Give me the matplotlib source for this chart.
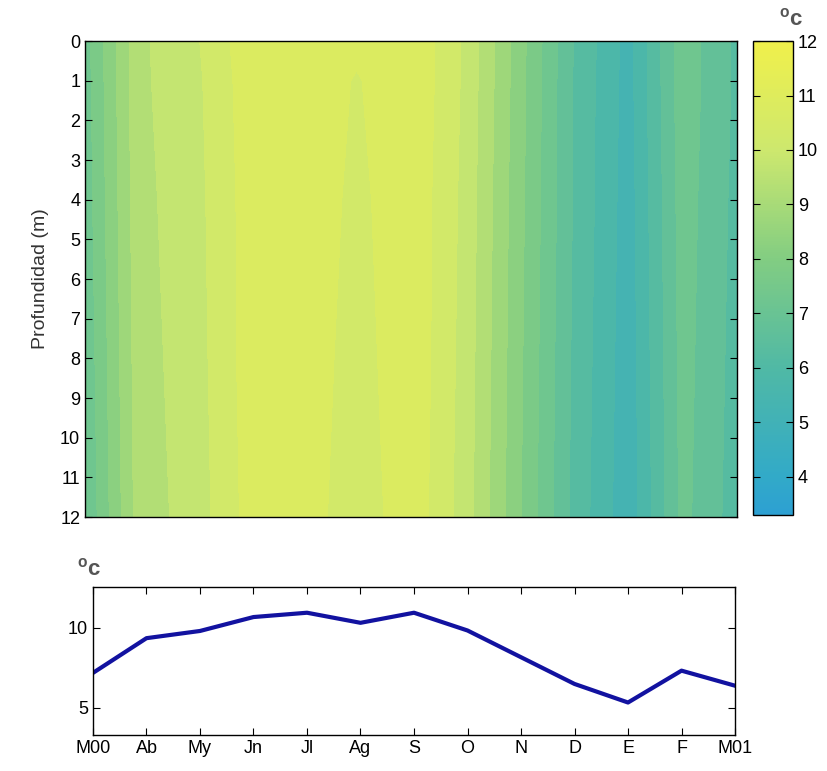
import matplotlib
matplotlib.use("Agg")
import matplotlib.pyplot as plt
import numpy as np
from matplotlib.colors import LinearSegmentedColormap, Normalize
from matplotlib.cm import ScalarMappable

plt.rcParams['font.family'] = ['Liberation Sans', 'DejaVu Sans']

# month labels (x = 0..12)
meses = ["M00", "Ab", "My", "Jn", "Jl", "Ag", "S", "O", "N", "D", "E", "F", "M01"]
mes_x = np.arange(len(meses))

# depths (m) where the profile was read
prof = [0, 1, 4, 8, 12]

# temperature (ºC) per depth row, per month
t_0 = [7.3, 9.4, 9.9, 10.8, 10.95, 10.65, 10.95, 9.9, 8.2, 6.5, 5.3, 7.3, 6.4]
t_1 = [7.25, 9.4, 9.85, 10.75, 10.9, 10.45, 10.95, 9.9, 8.2, 6.45, 5.3, 7.3, 6.4]
t_4 = [7.2, 9.35, 9.8, 10.7, 10.9, 10.35, 10.9, 9.85, 8.15, 6.45, 5.25, 7.25, 6.35]
t_8 = [7.1, 9.3, 9.75, 10.7, 10.85, 10.25, 10.9, 9.8, 8.1, 6.4, 5.2, 7.2, 6.3]
t_12 = [7.0, 9.25, 9.7, 10.65, 10.8, 10.15, 10.85, 9.75, 8.05, 6.35, 5.15, 7.15, 6.25]

# depth-mean temperature (bottom panel)
t_media = [7.18, 9.35, 9.8, 10.67, 10.94, 10.31, 10.94, 9.83, 8.16, 6.49, 5.33, 7.32, 6.38]

T = np.array([t_0, t_1, t_4, t_8, t_12])

# colormap
cmap = LinearSegmentedColormap.from_list("temp", [
    (0.0, (45/255, 160/255, 210/255)),
    ((4 - 3.3) / 8.7, (50/255, 170/255, 200/255)),
    ((6 - 3.3) / 8.7, (80/255, 185/255, 165/255)),
    ((8 - 3.3) / 8.7, (130/255, 205/255, 130/255)),
    ((10 - 3.3) / 8.7, (205/255, 232/255, 110/255)),
    (1.0, (240/255, 240/255, 75/255)),
])
norm = Normalize(vmin=3.3, vmax=12)
niveles = np.arange(3.0, 12.51, 0.5)

fig = plt.figure(figsize=(8.28, 7.71), dpi=100)
ax = fig.add_axes([0.1027, 0.3294, 0.7874, 0.6174])
cax = fig.add_axes([0.9094, 0.332, 0.0483, 0.6148])
ax2 = fig.add_axes([0.1123, 0.0467, 0.7754, 0.192])

cs = ax.contourf(mes_x, prof, T, levels=niveles, cmap=cmap, norm=norm)
ax.set_xlim(0, 12)
ax.set_ylim(12, 0)
ax.set_yticks(range(13))
ax.set_xticks([])
ax.tick_params(axis='y', direction='in', right=True, labelsize=13, length=5)
ax.set_ylabel("Profundidad (m)", fontsize=14, color="#333333", labelpad=8)

cb = fig.colorbar(ScalarMappable(norm=norm, cmap=cmap), cax=cax)
cb.set_ticks(range(4, 13))
cax.tick_params(direction='in', left=True, right=True, labelsize=13, length=5)
cb.outline.set_linewidth(1)
fig.text(0.955, 0.975, "$^\\mathregular{o}$c", fontsize=16, fontweight="bold",
         color="#555555", ha="center", va="center")

# mean temperature line
ax2.plot(mes_x, t_media, color="#1212a0", linewidth=3)
ax2.set_xlim(0, 12)
ax2.set_ylim(3.3, 12.55)
ax2.set_xticks(mes_x)
ax2.set_xticklabels(meses)
ax2.set_yticks([5, 10])
ax2.tick_params(direction='in', top=True, right=True, labelsize=13, length=5)
fig.text(0.107, 0.262, "$^\\mathregular{o}$c", fontsize=16, fontweight="bold",
         color="#555555", ha="center", va="center")

for a in (ax, ax2):
    for s in a.spines.values():
        s.set_linewidth(1)

plt.savefig("out.png", dpi=100)
